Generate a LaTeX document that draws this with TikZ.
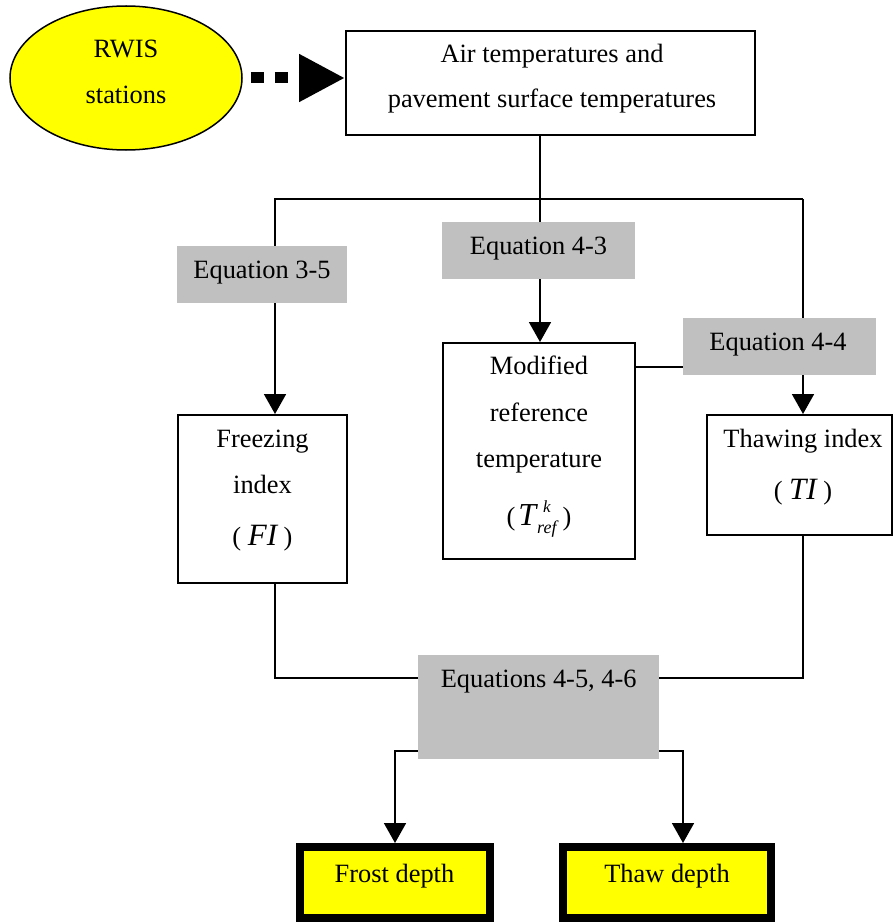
\documentclass[tikz,border=0pt]{standalone}
\usepackage{fontspec}
\setmainfont{Liberation Serif}
\usetikzlibrary{arrows.meta,shapes.geometric}
\definecolor{boxgray}{HTML}{C0C0C0}
\definecolor{hiyellow}{HTML}{FFFF00}
\pgfdeclarelayer{wires}
\pgfsetlayers{wires,main}

% italic symbol at a given size
\newcommand{\bigit}[2]{{\fontsize{#1}{#1}\selectfont\itshape #2}}

\begin{document}
\begin{tikzpicture}[x=1pt,y=-1pt,
  every node/.style={font=\rmfamily\fontsize{26.4}{31}\selectfont, inner sep=0pt},
  plainbox/.style={draw=black, line width=2pt, fill=white},
  eqbox/.style={fill=boxgray},
  resultbox/.style={draw=black, line width=8pt, fill=hiyellow},
  source/.style={ellipse, draw=black, line width=1.5pt, fill=hiyellow},
  txt/.style={anchor=base},
  wire/.style={draw=black, line width=1.8pt},
  flow/.style={wire, -{Triangle[length=20pt,width=22pt]}},
  feed/.style={line width=11pt, dash pattern=on 13pt off 11pt,
               -{Triangle[length=46pt,width=45pt]}}
]
\useasboundingbox (0,0) rectangle (893,923);

% boxes
\node[source, minimum width=232pt, minimum height=144pt] (rwis) at (126,78) {};
\node[plainbox, minimum width=409pt, minimum height=104pt] (air) at (550.5,83) {};
\node[eqbox, minimum width=170pt, minimum height=57pt] (eq35) at (262,274.5) {};
\node[eqbox, minimum width=193pt, minimum height=57pt] (eq43) at (538.5,250.5) {};
\node[eqbox, minimum width=193pt, minimum height=57pt] (eq44) at (779.5,346.5) {};
\node[plainbox, minimum width=192pt, minimum height=216pt] (mod) at (539,451) {};
\node[plainbox, minimum width=169pt, minimum height=168pt] (frz) at (262.5,499) {};
\node[plainbox, minimum width=185pt, minimum height=120pt] (thw) at (799.5,475) {};
\node[eqbox, minimum width=241pt, minimum height=104pt] (eq45) at (538.5,707) {};
\node[resultbox, minimum width=190pt, minimum height=71pt] (frost) at (395,882.5) {};
\node[resultbox, minimum width=208pt, minimum height=71pt] (thaw) at (667,882.5) {};

% texts
\node[txt] (rwis1) at (126,58) {RWIS};
\node[txt] (rwis2) at (126,104) {stations};
\node[txt] (air1) at (552,63) {Air temperatures and};
\node[txt] (air2) at (552,108) {pavement surface temperatures};
\node[txt] (eq35t) at (262,278) {Equation 3-5};
\node[txt] (eq43t) at (538.5,254) {Equation 4-3};
\node[txt] (eq44t) at (778,350) {Equation 4-4};
\node[txt] (mod1) at (539,374) {Modified};
\node[txt] (mod2) at (539,421) {reference};
\node[txt] (mod3) at (539,467) {temperature};
\node[txt] (mod4) at (539,525)
  {(\kern3pt\bigit{32}{T}\kern1pt\rlap{\kern6pt\raisebox{13pt}{\bigit{17}{k}}}\raisebox{-8pt}{\bigit{18}{ref}}\kern6pt)};
\node[txt] (thw1) at (803,447) {Thawing index};
\node[txt] (thw2) at (803,499) {( \bigit{31}{TI} )};
\node[txt] (frz1) at (262.5,447) {Freezing};
\node[txt] (frz2) at (262.5,493) {index};
\node[txt] (frz3) at (262.5,545) {( \bigit{31}{FI} )};
\node[txt] (eq45t) at (538.7,687) {Equations 4-5, 4-6};
\node[txt] (frostt) at (394.5,882) {Frost depth};
\node[txt] (thawt) at (667,882) {Thaw depth};

% junction points of the connector network
\coordinate (busL) at (275,199);
\coordinate (busR) at (803,199);
\coordinate (trunk) at (540,199);
\coordinate (tap) at (660,367);
\coordinate (mergeL) at (275,678);
\coordinate (mergeR) at (803,678);
\coordinate (outL) at (395,751);
\coordinate (outR) at (683,751);

\begin{pgfonlayer}{wires}
  \draw[feed, shorten <=8pt] (rwis.east) -- (rwis.east -| air.west);
  \draw[wire] (trunk |- air.south) -- (trunk |- eq43.north);
  \draw[wire] (busL |- eq35.north) -- (busL) -- (busR);
  \draw[flow] (busR) -- (busR |- thw.north);
  \draw[flow] (busL |- eq35.south) -- (busL |- frz.north);
  \draw[flow] (trunk |- eq43.south) -- (trunk |- mod.north);
  \draw[wire] (tap -| mod.east) -- (tap -| eq44.west);
  \draw[wire] (mergeL |- frz.south) -- (mergeL) -- (mergeL -| eq45.west);
  \draw[wire] (mergeR |- thw.south) -- (mergeR) -- (mergeR -| eq45.east);
  \draw[flow] (outL -| eq45.west) -- (outL) -- (outL |- frost.north);
  \draw[flow] (outR -| eq45.east) -- (outR) -- (outR |- thaw.north);
\end{pgfonlayer}
\end{tikzpicture}
\end{document}
